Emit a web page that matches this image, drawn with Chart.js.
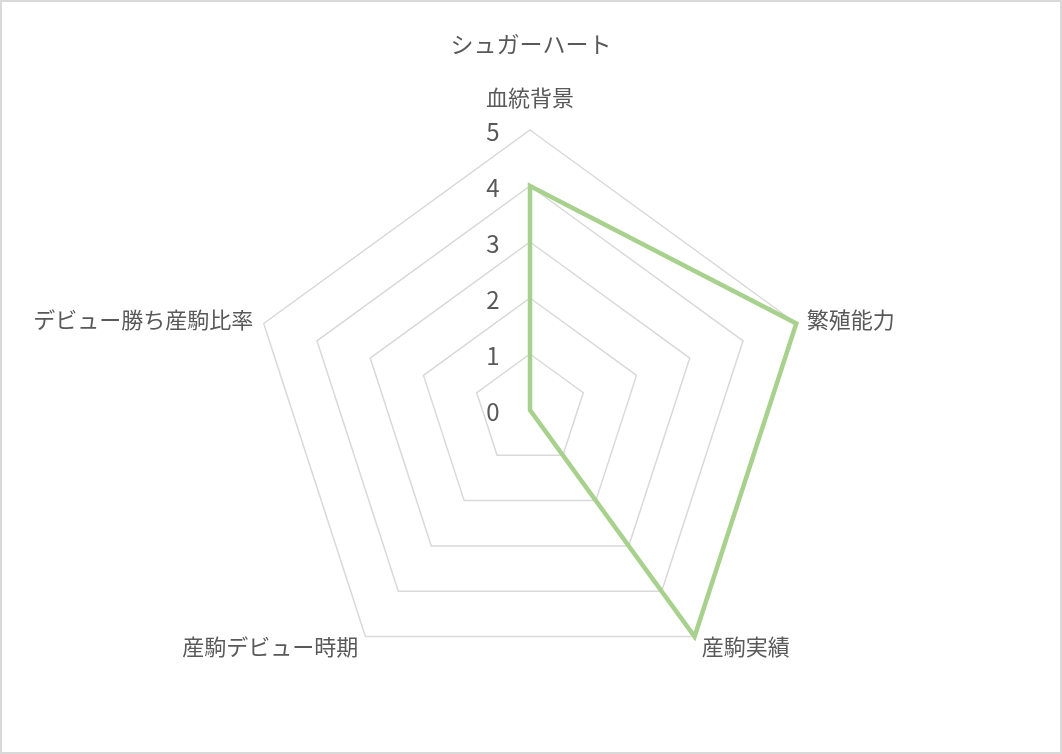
<!DOCTYPE html>
<html lang="ja">
<head>
<meta charset="utf-8">
<title>シュガーハート</title>
<script src="https://cdn.jsdelivr.net/npm/chart.js@4/dist/chart.umd.min.js"></script>
<style>
    html, body { margin: 0; padding: 0; background: #ffffff; }
    #wrap { position: relative; width: 1062px; height: 754px; }
</style>
</head>
<body>
<div id="wrap"><canvas id="radarChart"></canvas></div>
<script>
// Chart data
const chartTitle = 'シュガーハート';
const categories = ['血統背景', '繁殖能力', '産駒実績', '産駒デビュー時期', 'デビュー勝ち産駒比率'];
const scores = [4, 5, 5, 0, 0];
const tickValues = [0, 1, 2, 3, 4, 5];

// Layout of the radar (Excel-like placement)
const CENTER_X = 530;
const CENTER_Y = 410;
const RADIUS = 280;
const labelPadding = [32, 11, 12, 12, 11];
const textColor = '#595959';
const fontFamily = '"Noto Sans CJK JP", "Noto Sans", sans-serif';

// Force the radar centre and size instead of Chart.js auto-fit
const fixedRadarPlugin = {
    id: 'fixedRadar',
    beforeLayout(chart) {
        const scale = chart.scales.r;
        if (!scale || scale._fixed) return;
        scale.setCenterPoint = function () {
            this.xCenter = CENTER_X;
            this.yCenter = CENTER_Y;
            this.drawingArea = RADIUS;
        };
        scale._fixed = true;
    }
};

// Tick numbers drawn left of the top axis, like Excel does
const tickLabelPlugin = {
    id: 'tickLabels',
    afterDraw(chart) {
        const scale = chart.scales.r;
        const ctx = chart.ctx;
        ctx.save();
        ctx.font = '24px ' + fontFamily;
        ctx.fillStyle = textColor;
        ctx.textAlign = 'center';
        ctx.textBaseline = 'middle';
        tickValues.forEach(v => {
            const y = scale.yCenter - scale.getDistanceFromCenterForValue(v);
            ctx.fillText(String(v), scale.xCenter - 37, y + 2);
        });
        // outer border of the chart
        ctx.strokeStyle = '#d9d9d9';
        ctx.lineWidth = 2;
        ctx.strokeRect(1, 1, chart.width - 2, chart.height - 2);
        ctx.restore();
    }
};

new Chart(document.getElementById('radarChart'), {
    type: 'radar',
    data: {
        labels: categories,
        datasets: [{
            label: chartTitle,
            data: scores,
            borderColor: '#a9d18e',
            backgroundColor: 'rgba(0, 0, 0, 0)',
            borderWidth: 4.5,
            fill: false,
            tension: 0,
            pointRadius: 0,
            pointHoverRadius: 0
        }]
    },
    options: {
        responsive: true,
        maintainAspectRatio: false,
        animation: false,
        layout: {
            padding: 0
        },
        plugins: {
            legend: {
                display: false
            },
            tooltip: {
                enabled: false
            },
            title: {
                display: true,
                text: chartTitle,
                color: textColor,
                font: {
                    family: fontFamily,
                    size: 23,
                    weight: 'normal'
                },
                padding: { top: 30, bottom: 10 }
            }
        },
        scales: {
            r: {
                min: 0,
                max: 5,
                ticks: {
                    display: false,
                    stepSize: 1
                },
                grid: {
                    circular: false,
                    color: '#d9d9d9',
                    lineWidth: 1.5
                },
                angleLines: {
                    display: false
                },
                pointLabels: {
                    color: textColor,
                    padding: ctx => labelPadding[ctx.index],
                    font: {
                        family: fontFamily,
                        size: 22,
                        lineHeight: 0.01
                    }
                }
            }
        }
    },
    plugins: [fixedRadarPlugin, tickLabelPlugin]
});
</script>
</body>
</html>
